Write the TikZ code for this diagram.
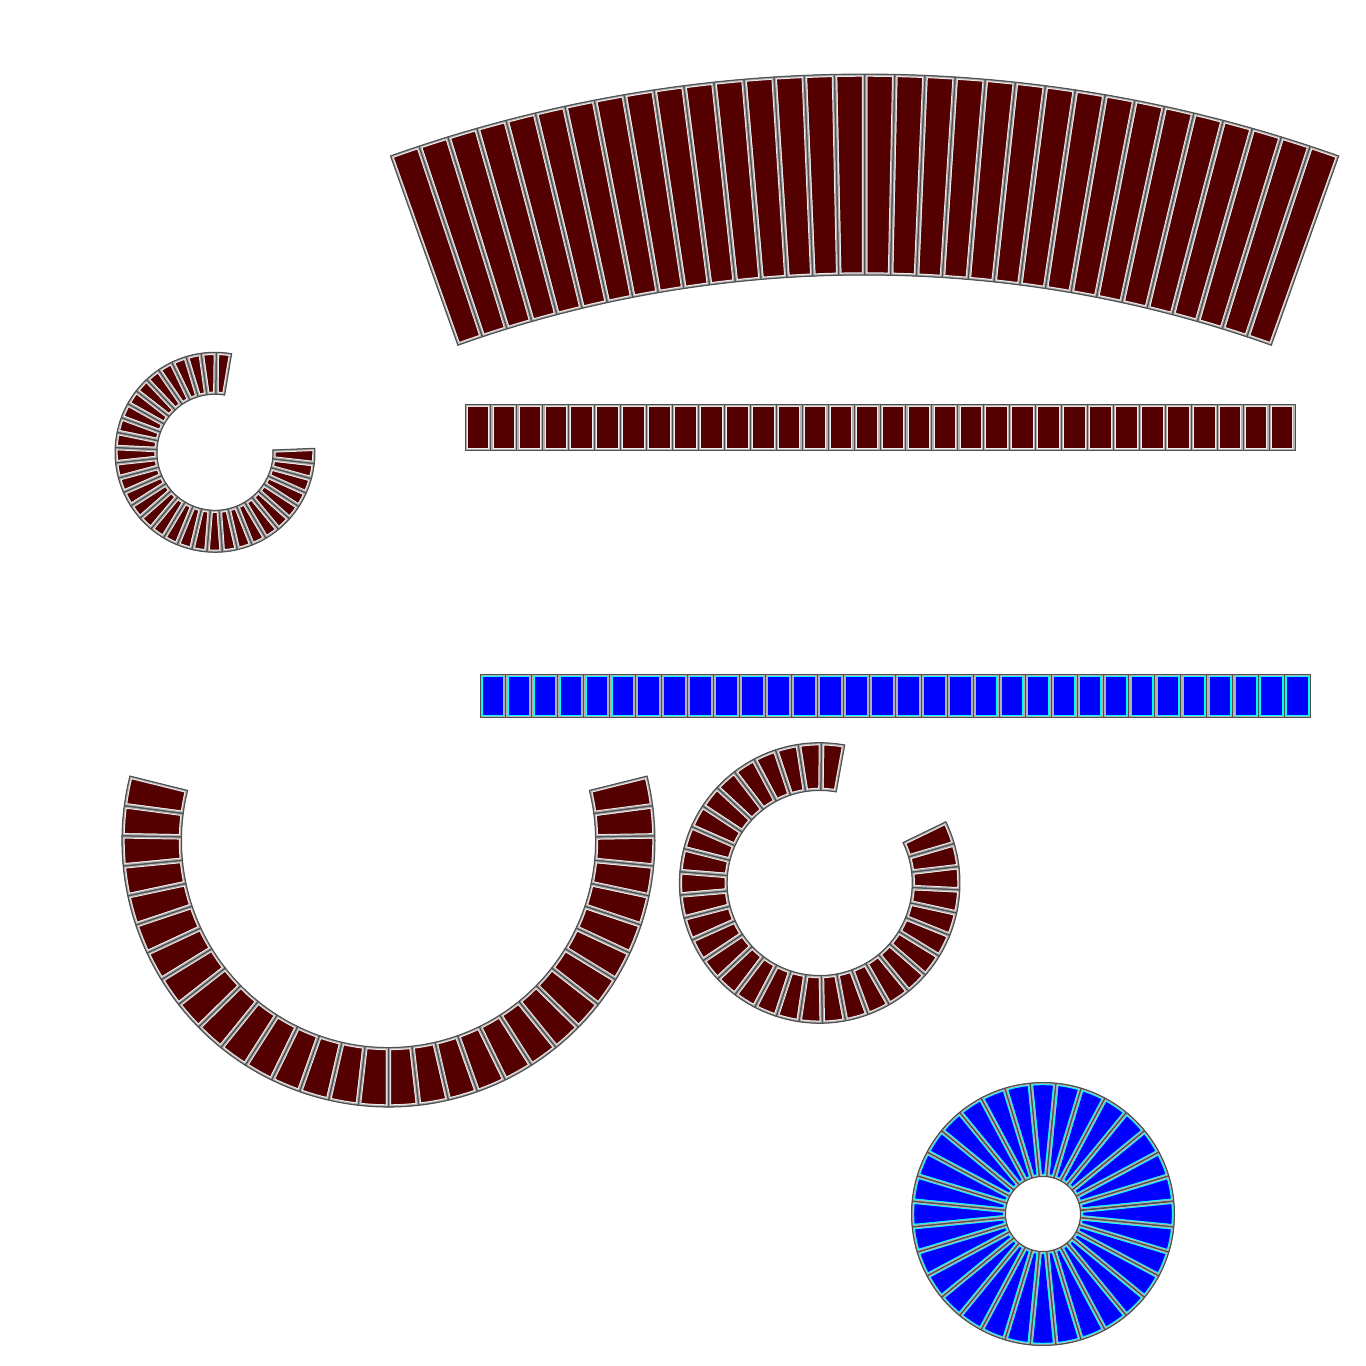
\documentclass[tikz,border=0pt]{standalone}
\definecolor{cellred}{RGB}{85,0,0}
\definecolor{cellblue}{RGB}{0,0,255}
\definecolor{hicyan}{RGB}{0,255,255}
\definecolor{hiwhite}{RGB}{238,238,238}
\definecolor{bandgray}{RGB}{178,178,178}
\definecolor{edgegray}{RGB}{80,80,80}
\tikzset{
  hiline/.style={line width=5.4pt},
  bandline/.style={draw=bandgray, line width=3.4pt},
  edgeline/.style={draw=edgegray, line width=1pt},
}
\newcommand{\cellsec}[5]{\path[#5] (#1:#3) -- (#1:#4) arc[start angle=#1, end angle=#2, radius=#4] -- (#2:#3) arc[start angle=#2, end angle=#1, radius=#3] -- cycle;}
\newcommand{\myring}[8]{%
  \begin{scope}[shift={(#1,#2)}]
    \begin{scope}
      \cellsec{#5}{#6}{#3}{#4}{clip}
      \foreach \i in {0,...,31}{\pgfmathsetmacro\aa{#5+(#6-#5)/32*\i}\pgfmathsetmacro\bb{#5+(#6-#5)/32*(\i+1)}\cellsec{\aa}{\bb}{#3}{#4}{fill=#7,draw=#8,hiline}}
      \foreach \i in {0,...,31}{\pgfmathsetmacro\aa{#5+(#6-#5)/32*\i}\pgfmathsetmacro\bb{#5+(#6-#5)/32*(\i+1)}\cellsec{\aa}{\bb}{#3}{#4}{bandline}}
      \foreach \i in {0,...,31}{\pgfmathsetmacro\aa{#5+(#6-#5)/32*\i}\pgfmathsetmacro\bb{#5+(#6-#5)/32*(\i+1)}\cellsec{\aa}{\bb}{#3}{#4}{edgeline}}
    \end{scope}
    \cellsec{#5}{#6}{#3}{#4}{edgeline}
  \end{scope}}
\newcommand{\mybar}[6]{%
  \begin{scope}
    \clip (#1,#2) rectangle (#3,#4);
    \foreach \i in {0,...,31}{\pgfmathsetmacro\xa{#1+(#3-#1)/32*\i}\pgfmathsetmacro\xb{#1+(#3-#1)/32*(\i+1)}\path[fill=#5,draw=#6,hiline] (\xa,#2) rectangle (\xb,#4);}
    \foreach \i in {0,...,31}{\pgfmathsetmacro\xa{#1+(#3-#1)/32*\i}\pgfmathsetmacro\xb{#1+(#3-#1)/32*(\i+1)}\path[bandline] (\xa,#2) rectangle (\xb,#4);}
    \foreach \i in {0,...,31}{\pgfmathsetmacro\xa{#1+(#3-#1)/32*\i}\pgfmathsetmacro\xb{#1+(#3-#1)/32*(\i+1)}\path[edgeline] (\xa,#2) rectangle (\xb,#4);}
  \end{scope}
  \path[edgeline] (#1,#2) rectangle (#3,#4);}
\begin{document}
\begin{tikzpicture}[x=1pt,y=1pt]
\useasboundingbox (0,0) rectangle (1366,1366);
% top wide arc
\myring{864.6}{-121.6}{1212.6}{1413.6}{70.4}{109.6}{cellred}{hiwhite}
% red bar
\mybar{465}{915.3}{1295}{961.7}{cellred}{hiwhite}
% blue bar
\mybar{480}{648.7}{1310.7}{691.7}{cellblue}{hicyan}
% small C
\myring{215}{913.7}{58}{100}{80.4}{362.3}{cellred}{hiwhite}
% big U
\myring{388.5}{525.5}{207}{266.5}{166}{374}{cellred}{hiwhite}
% medium C
\myring{819.7}{483}{92.5}{140.3}{79.7}{385.9}{cellred}{hiwhite}
% blue wheel
\myring{1043}{152}{37.5}{131.5}{5.625}{365.625}{cellblue}{hicyan}
\end{tikzpicture}
\end{document}
